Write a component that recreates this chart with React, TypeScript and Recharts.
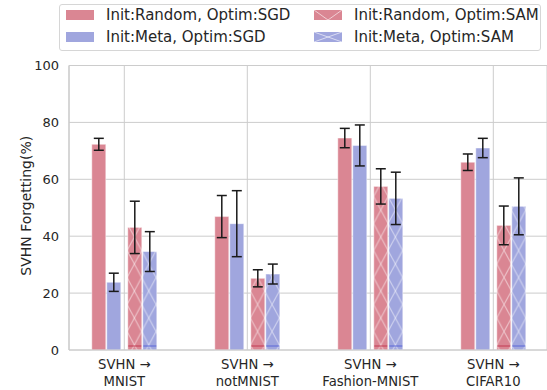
import React from "react";
import { BarChart, Bar, XAxis, YAxis, CartesianGrid, ErrorBar, Legend } from "recharts";

const source = "SVHN";
const categories = ["MNIST", "notMNIST", "Fashion-MNIST", "CIFAR10"];
const randomSGD = [72.3, 46.9, 74.5, 66.0];
const randomSGDErr = [2.1, 7.4, 3.4, 2.9];
const metaSGD = [23.8, 44.4, 71.9, 71.0];
const metaSGDErr = [3.2, 11.6, 7.2, 3.4];
const randomSAM = [43.1, 25.2, 57.5, 43.8];
const randomSAMErr = [9.2, 3.0, 6.2, 6.8];
const metaSAM = [34.6, 26.7, 53.3, 50.5];
const metaSAMErr = [7.0, 3.5, 9.2, 10.0];
const yTicks = [0, 20, 40, 60, 80, 100];
const seriesNames = [
  "Init:Random, Optim:SGD",
  "Init:Meta, Optim:SGD",
  "Init:Random, Optim:SAM",
  "Init:Meta, Optim:SAM",
];

const RED = "#da8693";
const BLUE = "#a0a6de";
const RED_DARK = "#c23a52";
const BLUE_DARK = "#5a66d6";
const TEXT = "#262626";
const GRID = "#cccccc";
const FONT = "DejaVu Sans, sans-serif";

const data = categories.map((c, i) => ({
  name: c,
  rsgd: randomSGD[i],
  rsgdErr: randomSGDErr[i],
  msgd: metaSGD[i],
  msgdErr: metaSGDErr[i],
  gap: null,
  rsam: randomSAM[i],
  rsamErr: randomSAMErr[i],
  msam: metaSAM[i],
  msamErr: metaSAMErr[i],
}));

const XTick = (props: any) => {
  const { x, y, payload } = props;
  return (
    <g transform={`translate(${x},${y})`}>
      <text textAnchor="middle" fill={TEXT} fontSize={13.2} fontFamily={FONT}>
        <tspan x={0} dy={18.5}>{`${source} →`}</tspan>
        <tspan x={0} dy={17.7}>{payload.value}</tspan>
      </text>
    </g>
  );
};

const YLabel = (props: any) => {
  const vb = props.viewBox || { x: 0, y: 0, width: 0, height: 0 };
  const cx = vb.x + 26;
  const cy = vb.y + vb.height / 2 - 2;
  return (
    <text
      x={cx}
      y={cy}
      transform={`rotate(-90, ${cx}, ${cy})`}
      textAnchor="middle"
      dominantBaseline="central"
      fill={TEXT}
      fontSize={14}
      fontFamily={FONT}
    >
      SVHN Forgetting(%)
    </text>
  );
};

const hatchShape = (patternId: string, dark: string) => (props: any) => {
  const { x, y, width, height } = props;
  if (height == null || width == null) return null;
  return (
    <g>
      <rect
        x={x}
        y={y}
        width={width}
        height={height}
        fill={`url(#${patternId})`}
        stroke="#ffffff"
        strokeOpacity={0.45}
        strokeWidth={1}
      />
      <line
        x1={x + 0.5}
        x2={x + width - 0.5}
        y1={y + height - 4}
        y2={y + height - 4}
        stroke={dark}
        strokeWidth={1}
      />
    </g>
  );
};

const LegendPatch = ({ color, hatch, variant }: { color: string; hatch: boolean; variant: number }) => (
  <svg width={28} height={10} style={{ display: "block" }}>
    <rect x={0} y={0} width={28} height={10} fill={color} />
    {hatch && variant === 0 && (
      <polyline points="0,0 14,10 28,0" fill="none" stroke="#ffffff" strokeOpacity={0.6} strokeWidth={1} />
    )}
    {hatch && variant === 1 && (
      <g stroke="#ffffff" strokeOpacity={0.6} strokeWidth={1}>
        <line x1={0} y1={0} x2={28} y2={10} />
        <line x1={28} y1={0} x2={0} y2={10} />
      </g>
    )}
  </svg>
);

const LegendContent = () => {
  const entries = [
    { name: seriesNames[0], color: RED, hatch: false, variant: 0, col: 0, row: 0 },
    { name: seriesNames[1], color: BLUE, hatch: false, variant: 0, col: 0, row: 1 },
    { name: seriesNames[2], color: RED, hatch: true, variant: 0, col: 1, row: 0 },
    { name: seriesNames[3], color: BLUE, hatch: true, variant: 1, col: 1, row: 1 },
  ];
  return (
    <div
      style={{
        position: "relative",
        width: 482,
        height: 47,
        boxSizing: "border-box",
        border: "1px solid #d6d6d6",
        borderRadius: 3,
        background: "rgba(255,255,255,0.8)",
        fontFamily: FONT,
        fontSize: 15,
        color: TEXT,
      }}
    >
      {entries.map((e) => (
        <div
          key={e.name}
          style={{
            position: "absolute",
            left: e.col === 0 ? 6 : 254,
            top: e.row === 0 ? 1 : 23,
            height: 18,
            display: "flex",
            alignItems: "center",
            whiteSpace: "nowrap",
          }}
        >
          <LegendPatch color={e.color} hatch={e.hatch} variant={e.variant} />
          <span style={{ marginLeft: 12, lineHeight: "18px" }}>{e.name}</span>
        </div>
      ))}
    </div>
  );
};

export default function App() {
  return (
    <div style={{ position: "absolute", left: 0, top: 0, width: 547, height: 390, overflow: "hidden", background: "#fff" }}>
      <BarChart
        width={547}
        height={390}
        data={data}
        margin={{ top: 65.5, right: 0, bottom: 0, left: 0 }}
        barGap={1}
      >
        <defs>
          <pattern id="hatchRed" patternUnits="userSpaceOnUse" width={14.5} height={27} x={127.1} y={331.5}>
            <rect x={0} y={0} width={14.5} height={27} fill={RED} />
            <line x1={0} y1={0} x2={14.5} y2={27} stroke="#ffffff" strokeOpacity={0.55} strokeWidth={1} />
            <line x1={14.5} y1={0} x2={0} y2={27} stroke="#ffffff" strokeOpacity={0.55} strokeWidth={1} />
          </pattern>
          <pattern id="hatchBlue" patternUnits="userSpaceOnUse" width={14.5} height={27} x={127.1} y={331.5}>
            <rect x={0} y={0} width={14.5} height={27} fill={BLUE} />
            <line x1={0} y1={0} x2={14.5} y2={27} stroke="#ffffff" strokeOpacity={0.55} strokeWidth={1} />
            <line x1={14.5} y1={0} x2={0} y2={27} stroke="#ffffff" strokeOpacity={0.55} strokeWidth={1} />
          </pattern>
        </defs>
        <CartesianGrid stroke={GRID} strokeWidth={1} vertical={true} horizontal={true} />
        <XAxis
          dataKey="name"
          height={40}
          axisLine={{ stroke: GRID, strokeWidth: 1.2 }}
          tickLine={false}
          tickSize={0}
          tickMargin={0}
          padding={{ left: -6.2, right: -7.8 }}
          interval={0}
          tick={<XTick />}
        />
        <YAxis
          width={69}
          domain={[0, 100]}
          ticks={yTicks}
          axisLine={{ stroke: GRID, strokeWidth: 1.2 }}
          tickLine={false}
          tickSize={0}
          tickMargin={10}
          tick={{ fill: TEXT, fontSize: 13, fontFamily: FONT }}
          label={<YLabel />}
        />
        <Legend
          layout="horizontal"
          verticalAlign="middle"
          align="center"
          content={<LegendContent />}
          wrapperStyle={{ position: "absolute", top: 4, left: 59, width: 482, height: 47 }}
        />
        <Bar dataKey="rsgd" barSize={14} fill={RED} stroke="#ffffff" strokeOpacity={0.45} isAnimationActive={false}>
          <ErrorBar dataKey="rsgdErr" width={5} stroke="#1a1a1a" strokeWidth={1.5} direction="y" />
        </Bar>
        <Bar dataKey="msgd" barSize={14} fill={BLUE} stroke="#ffffff" strokeOpacity={0.45} isAnimationActive={false}>
          <ErrorBar dataKey="msgdErr" width={5} stroke="#1a1a1a" strokeWidth={1.5} direction="y" />
        </Bar>
        <Bar dataKey="gap" barSize={5} fill="none" isAnimationActive={false} />
        <Bar dataKey="rsam" barSize={14} fill={RED} isAnimationActive={false} shape={hatchShape("hatchRed", RED_DARK)}>
          <ErrorBar dataKey="rsamErr" width={5} stroke="#1a1a1a" strokeWidth={1.5} direction="y" />
        </Bar>
        <Bar dataKey="msam" barSize={14} fill={BLUE} isAnimationActive={false} shape={hatchShape("hatchBlue", BLUE_DARK)}>
          <ErrorBar dataKey="msamErr" width={5} stroke="#1a1a1a" strokeWidth={1.5} direction="y" />
        </Bar>
      </BarChart>
    </div>
  );
}
